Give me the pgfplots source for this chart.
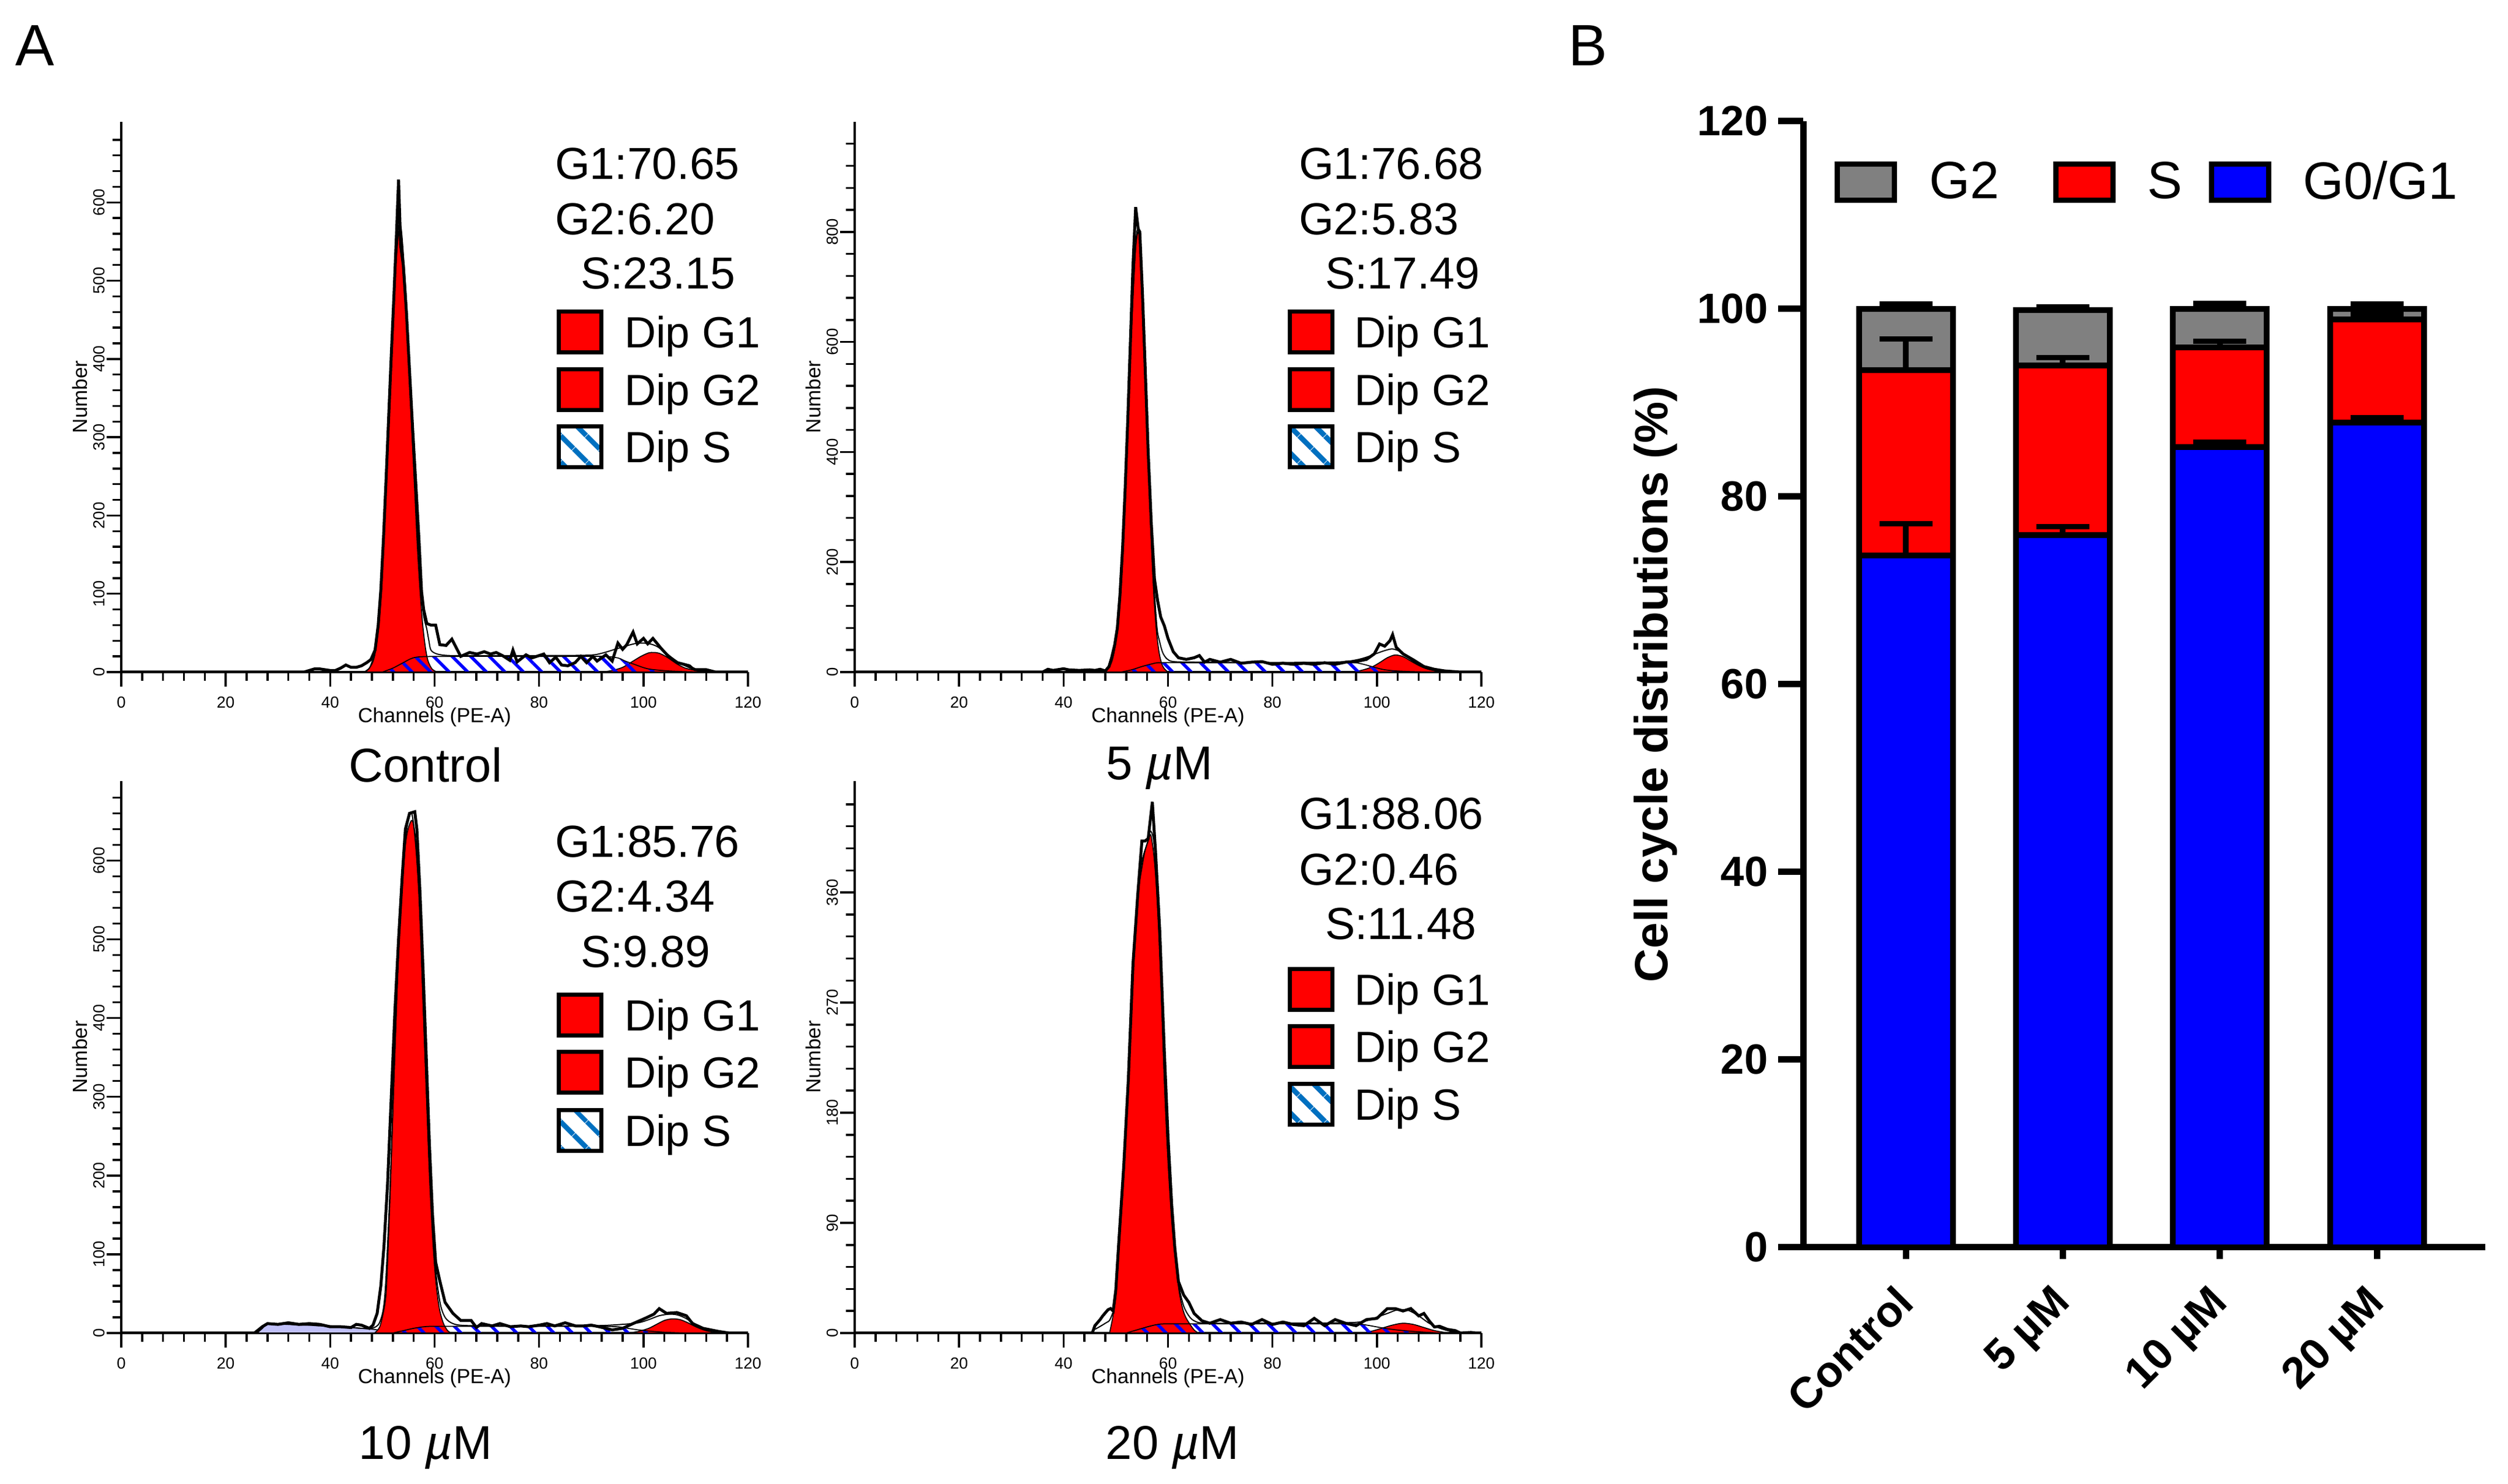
\documentclass[border=0pt]{standalone}
\usepackage{fontspec}
\setmainfont{Liberation Sans}
\usepackage{pgfplots}
\pgfplotsset{compat=1.18}
\usetikzlibrary{patterns.meta}
\definecolor{lav}{RGB}{192,192,248}
\definecolor{steel}{RGB}{0,112,192}
\definecolor{bargray}{RGB}{128,128,128}
\newcommand{\bigfont}{\fontsize{15.4}{18}\selectfont}
\newcommand{\legfont}{\fontsize{15}{18}\selectfont}
\newcommand{\legrow}[5]{%
  \path[#4] (#1pt,#3pt-7pt) rectangle ++(14.6pt,14pt);
  \draw[line width=1.4pt] (#1pt,#3pt-7pt) rectangle ++(14.6pt,14pt);
  \node[anchor=base west, inner sep=0pt, font=\legfont] at (#2pt,#3pt-5.4pt) {#5};}
\tikzset{
  g1/.style={fill=red, draw=black, line width=0.35pt},
  sh/.style={pattern={Lines[angle=-45,distance=4.5pt,line width=1.1pt]}, pattern color=blue, draw=black, line width=0.35pt},
  fitl/.style={draw=black, line width=0.4pt},
  raw/.style={draw=black, line width=1pt},
  deb/.style={fill=lav, draw=black, line width=0.35pt},
}
\pgfplotsset{
 histo/.style={
  anchor=south west, scale only axis, width=215pt,
  axis lines=left, axis line style={-, line width=0.9pt},
  xmin=0, xmax=120, ymin=0,
  xtick={0,20,...,120}, minor xtick={0,4,...,120},
  tick align=outside,
  major tick length=5pt, minor tick length=3pt,
  tick style={black, line width=0.7pt},
  ticklabel style={font=\fontsize{5.5}{6}\selectfont},
  /pgf/number format/assume math mode=true,
  yticklabel style={rotate=90, anchor=south},
  yticklabel shift=-2.8pt,
  xlabel={Channels (PE-A)}, ylabel={Number},
  label style={font=\fontsize{7}{8}\selectfont},
  xlabel style={at={(axis description cs:0.5,0)}, anchor=center, yshift=-15.4pt},
  ylabel style={at={(axis description cs:-0.066,0.5)}, anchor=center},
 },
 ebar/.style={error bars/.cd, y dir=plus, y explicit, error bar style={line width=2pt, black},
   error mark options={rotate=90, line width=1.8pt, mark size=9.1pt, black}},
}
\begin{document}
\begin{tikzpicture}
\path[use as bounding box] (0,0) rectangle (860.4pt,509.2pt);

% ---------------- Control ----------------
\begin{axis}[histo, at={(41.6pt,278.6pt)}, height=188.8pt, ymax=703,
  ytick={0,100,...,600}, minor ytick={0,20,...,680}]
\addplot[g1, smooth] coordinates {(46.5,0) (47.5,5) (48,13) (48.6,24) (49.2,55) (49.7,100) (50.2,165) (50.7,240) (51.2,320) (51.7,400) (52.2,475) (52.7,530) (53.2,565) (53.7,550) (54.2,510) (54.7,450) (55.2,380) (55.7,300) (56.2,230) (56.7,160) (57.2,105) (57.7,62) (58.2,33) (58.7,15) (59.5,4) (60.5,0)} \closedcycle;
\addplot[g1, smooth] coordinates {(92,0) (94,2) (96,6) (98,14) (99.5,20) (101,24.5) (102,25) (103,24) (104.5,19) (106.5,10) (108,5) (109.3,3) (111.6,0)} \closedcycle;
\addplot[sh, smooth] coordinates {(50,0) (52,5) (54,12) (55.3,16.6) (56.5,19) (58.7,19.8) (65,20) (75,20) (85,20) (92.3,20) (95.1,18) (96.5,14) (98,10.4) (100.8,4.2) (104.2,1.7) (108,0.5) (111.6,0)} \closedcycle;
\addplot[fitl, smooth] coordinates {(46.5,0) (47.5,5) (48.6,25) (49.7,102) (50.7,243) (51.7,403) (52.7,540) (53.2,572) (53.7,560) (54.7,462) (55.7,315) (56.7,178) (57.7,82) (58.5,55) (58.9,40) (59.3,28) (60.5,23) (63,21) (70,21) (80,21) (89.4,21.5) (92,24) (95,30) (98.5,36.5) (100.8,36.5) (102.5,33) (104.2,25) (106.5,13) (108.8,5.5) (110.5,1.7) (111.6,0)};
\addplot[raw] coordinates {(0,0) (35,0) (36,2) (37,4) (38,4) (39,3) (40,2) (41,2) (42,5) (43,9) (44,6) (45,6) (46,8) (47,12) (47.8,16) (48.6,28) (49.2,60) (49.7,105) (50.2,170) (50.7,245) (51.2,325) (51.7,405) (52.2,480) (52.7,560) (53.1,629) (53.5,545) (54,520) (54.6,460) (55.2,385) (55.8,310) (56.4,240) (57,170) (57.5,103) (57.9,80) (58.5,62) (59.3,60) (60.2,60) (61,35) (62.2,34) (63.3,42) (65,20) (66.7,25) (68.1,23) (69.5,26) (70.7,23) (71.8,25) (73,21) (74.4,15) (75,28) (75.8,13) (77.5,22) (78.6,18) (80.9,23) (82,12) (83.2,19) (84.3,9) (85.5,8) (86.9,12) (88,20) (89.1,12) (90.3,20) (91.1,14) (92.8,22) (94,14) (95.1,37) (96,29) (96.8,35) (98,51) (98.8,36) (100,43) (100.8,36) (101.8,43) (103.4,30) (104.8,20) (106.5,12) (108.8,8) (109.3,5) (109.9,3) (112,3) (113.8,0) (120,0)};
\end{axis}

% ---------------- 5 uM ----------------
\begin{axis}[histo, at={(293.2pt,278.6pt)}, height=188.8pt, ymax=1000,
  ytick={0,200,...,800}, minor ytick={0,40,...,960}]
\addplot[g1, smooth] coordinates {(47.5,0) (48.3,4) (48.8,10) (49.3,21) (49.8,42) (50.3,77) (50.8,134) (51.3,215) (51.8,321) (52.3,446) (52.8,576) (53.3,691) (53.8,771) (54.3,800) (54.8,762) (55.3,658) (55.8,516) (56.3,366) (56.8,236) (57.3,138) (57.8,73) (58.3,35) (58.8,15) (59.3,6) (60,0)} \closedcycle;
\addplot[g1, smooth] coordinates {(95,0) (97,3) (99,9) (100.5,17) (102,26) (103.5,31) (105,28) (106.5,20) (108,12) (109.5,6) (111,2.5) (113,0)} \closedcycle;
\addplot[sh, smooth] coordinates {(51,0) (53,4) (55,10) (57,15) (58.5,17) (65,17) (75,17) (85,17) (95,17) (97,15) (99,10) (101,5) (103,2.5) (106,1) (110,0)} \closedcycle;
\addplot[fitl, smooth] coordinates {(47.5,0) (48.8,12) (49.8,45) (50.8,137) (51.8,325) (52.8,580) (53.8,775) (54.3,805) (54.8,768) (55.8,525) (56.8,250) (57.8,90) (58.4,55) (59,35) (59.8,24) (61,19) (65,18) (75,17.5) (85,17.5) (93,18.5) (96,22) (98,27) (100,34) (101.5,39) (103,42) (104.5,37) (106,26) (107.5,16) (109,8) (111,3) (113,0)};
\addplot[raw] coordinates {(0,0) (36,0) (37,5) (38,3) (40,6) (41,4) (43,3) (45,4) (46,3) (47,5) (48,2) (48.7,10) (49.2,26) (49.8,50) (50.3,80) (50.8,140) (51.3,225) (51.8,335) (52.3,460) (52.8,600) (53.3,740) (53.8,845) (54.3,805) (54.6,800) (55.1,690) (55.6,560) (56.2,400) (56.8,270) (57.4,170) (58,130) (58.6,100) (59.3,84) (60,61) (61,37) (62,26) (63.5,23) (65,26) (66,30) (67,18) (68,23) (70,18) (72,23) (74,16) (76,18) (78,19) (80,14) (82,16) (84,14) (86,16) (88,14) (90,17) (92,14) (94,18) (96,19) (98,23) (99.5,33) (100.5,51) (101.5,47) (102.5,57) (103,68) (103.7,45) (105,33) (107,22) (109,10) (111,5) (113,2) (116,0) (120,0)};
\end{axis}

% ---------------- 10 uM ----------------
\begin{axis}[histo, at={(41.6pt,51.8pt)}, height=189.4pt, ymax=701,
  ytick={0,100,...,600}, minor ytick={0,20,...,680}]
\addplot[deb, smooth] coordinates {(26,0) (27,6) (28,11) (30,11) (32,11) (34,10) (36,10) (38,9) (40,9) (42,8) (44,7) (46,6) (48,5) (50,3) (52,1) (54,0)} \closedcycle;
\addplot[g1, smooth] coordinates {(48.5,0) (49.5,8) (50.3,30) (50.7,50) (51,90) (51.5,180) (52,280) (52.5,375) (53,465) (53.5,540) (54,590) (54.5,625) (55,642) (55.7,651) (56.3,630) (57,554) (57.5,470) (58,378) (58.5,290) (59,201) (59.5,135) (60,84) (60.5,50) (61,28) (61.7,12) (62.5,3) (63.2,0)} \closedcycle;
\addplot[g1, smooth] coordinates {(97,0) (99,2) (101,6) (102.5,11) (104,16) (105.5,18) (107,17) (108.5,13) (110,8) (111.5,4) (113,1.5) (115,0)} \closedcycle;
\addplot[sh, smooth] coordinates {(52,0) (54,3) (56,6) (58,8) (60,8.5) (70,8.5) (80,8.5) (90,8.5) (95,8) (97,6) (99,4) (101,2.5) (104,1) (108,0)} \closedcycle;
\addplot[fitl, smooth] coordinates {(26,0) (27,6) (28,11) (32,11) (40,9) (46,6) (48,6) (49.5,14) (50.5,50) (51.5,190) (52.5,385) (53.5,548) (54.5,632) (55.7,658) (57,562) (58,388) (59,212) (60,95) (61,40) (62,20) (63.5,12) (66,9.5) (75,9) (85,9) (92,9.5) (96,11) (99,13) (101,17) (103,22) (105,24) (106.5,23) (108,19) (110,11) (112,5) (114,1.5) (116,0)};
\addplot[raw] coordinates {(0,0) (25.5,0) (27,8) (28,12) (30,11) (32,13) (34,11) (36,12) (38,11) (40,8) (42,8) (44,7) (45,11) (46,10) (47.5,6) (48.2,10) (49,25) (49.7,60) (50.3,110) (51,190) (51.7,300) (52.4,410) (53.1,500) (53.8,580) (54.4,640) (55.2,660) (56.2,662) (56.6,640) (57.2,560) (57.8,460) (58.4,350) (59,240) (59.6,150) (60.2,90) (61,66) (62,39) (63.5,25) (65,16) (67,16) (68,7) (69,12) (71,9) (72.5,12) (74.5,8) (76.5,9) (78,8) (80,10) (81.5,12) (83,9) (85,13) (87,9) (88.5,9) (90,10) (91.5,8) (94,4) (96,6) (98,12) (100.4,19) (102,24) (103,31) (104.4,25) (106.4,26) (108.2,22) (109.4,12) (111.4,6) (114.4,2) (116.4,0) (120,0)};
\end{axis}

% ---------------- 20 uM ----------------
\begin{axis}[histo, at={(293.2pt,51.8pt)}, height=189.4pt, ymax=451,
  ytick={0,90,...,360}, minor ytick={0,18,...,432}]
\addplot[g1, smooth] coordinates {(48.8,0) (49.5,15) (50,35) (50.5,69) (51,100) (51.4,129) (52,170) (52.4,205) (53.3,300) (54.2,356) (55,380) (55.6,394) (56.2,402) (56.7,407) (57.3,390) (57.9,356) (58.6,290) (59.3,205) (60,140) (60.7,92) (61.4,60) (62.1,35) (62.8,20) (63.5,12) (64.9,3) (65.8,0)} \closedcycle;
\addplot[g1, smooth] coordinates {(97,0) (99,1.5) (101,4) (103,6.5) (105,8) (107,7) (109,4.5) (111,2) (113,0.5) (114,0)} \closedcycle;
\addplot[sh, smooth] coordinates {(52,0) (54,2.5) (56,5) (58,7) (60,7.5) (70,7.5) (80,7.5) (90,7.5) (96,7.5) (98,6.5) (100,5) (102,3.5) (105,2) (108,1) (112,0)} \closedcycle;
\addplot[fitl, smooth] coordinates {(46,3) (48,8) (49,12) (50,30) (51,100) (52.4,205) (53.3,300) (54.2,357) (55,385) (56,400) (56.7,410) (57.5,392) (58.6,300) (59.3,215) (60,150) (60.7,100) (61.4,62) (62.1,38) (63,22) (64,14) (65,10) (67,8) (75,8) (85,8) (95,8.5) (98,10) (100,13) (102,16) (104,19) (106,18.5) (108,14) (110,8) (112,4) (114,1.5) (116,0)};
\addplot[raw] coordinates {(0,0) (45.5,0) (46,6) (47,11) (47.5,14) (48.5,19) (49,20) (49.5,18) (50,35) (50.5,69) (51,102) (51.5,135) (52.4,207) (53.3,302) (54.2,358) (55,402) (55.6,402) (56.2,404) (57,434) (57.6,394) (58.4,330) (59.3,230) (60,160) (60.7,105) (61.3,70) (62,42) (63,31) (64,25) (65,16) (66.5,10) (68,8) (70,11) (72,8) (74,9) (76,7) (78,11) (80,7) (82,9) (84,7) (86,6) (88,12) (90,6) (92,11) (94,8) (96,6) (98,11) (100,12) (102,20) (103.5,20) (105,18) (106.5,20) (108,14) (109,16) (110,10) (111,5) (112,5.5) (113.5,3) (115,2) (116,0) (118,0.5) (119,0) (120,0)};
\end{axis}

% ---------------- Bar chart ----------------
\begin{axis}[at={(618.6pt,81.2pt)}, anchor=south west, scale only axis,
  width=234pt, height=386.4pt,
  axis lines=left, axis line style={-, line width=2.2pt},
  xmin=-0.654, xmax=3.69, ymin=0, ymax=120,
  xtick={0,1,2,3}, xticklabels={Control, 5 µM, 10 µM, 20 µM},
  ytick={0,20,...,120},
  tick align=outside, major tick length=8.6pt,
  xtick style={/pgfplots/major tick length=4pt},
  tick style={black, line width=2.2pt},
  /pgf/number format/assume math mode=true,
  yticklabel style={font=\bfseries\fontsize{14.5}{16}\selectfont},
  xticklabel style={font=\bfseries\fontsize{15}{16}\selectfont, rotate=45, anchor=north east, xshift=-2pt, yshift=4pt},
  ylabel={Cell cycle distributions (\%)},
  ylabel style={font=\bfseries\fontsize{16}{18}\selectfont, at={(axis description cs:-0.2162,0.5)}, anchor=center},
  legend style={at={(axis cs:-0.457,113.5)}, anchor=west, draw=none, fill=none, inner sep=0pt,
    font=\fontsize{18}{20}\selectfont, legend columns=3, nodes={inner sep=0pt},
    /tikz/column 1/.style={column sep=11pt}, /tikz/column 2/.style={column sep=18.5pt},
    /tikz/column 3/.style={column sep=11pt}, /tikz/column 4/.style={column sep=9pt},
    /tikz/column 5/.style={column sep=11pt}},
]
\addplot[ybar, bar width=32.2pt, bar shift=0pt, fill=bargray, draw=black, line width=2pt, forget plot, ebar]
  coordinates {(0,100) +- (0,0.55) (1,99.9) +- (0,0.3) (2,100) +- (0,0.6) (3,100) +- (0,0.5)};
\addplot[ybar, bar width=32.2pt, bar shift=0pt, fill=red, draw=black, line width=2pt, forget plot, ebar]
  coordinates {(0,93.5) +- (0,3.3) (1,94.0) +- (0,0.8) (2,95.9) +- (0,0.65) (3,98.9) +- (0,0.5)};
\addplot[ybar, bar width=32.2pt, bar shift=0pt, fill=blue, draw=black, line width=2pt, forget plot, ebar]
  coordinates {(0,73.7) +- (0,3.4) (1,75.9) +- (0,0.9) (2,85.3) +- (0,0.5) (3,87.9) +- (0,0.5)};
\addlegendimage{legend image code/.code={\draw[fill=bargray, draw=black, line width=1.8pt] (0pt,-6.2pt) rectangle (19.6pt,6.2pt);}}
\addlegendentry{G2}
\addlegendimage{legend image code/.code={\draw[fill=red, draw=black, line width=1.8pt] (0pt,-6.2pt) rectangle (19.6pt,6.2pt);}}
\addlegendentry{S}
\addlegendimage{legend image code/.code={\draw[fill=blue, draw=black, line width=1.8pt] (0pt,-6.2pt) rectangle (19.6pt,6.2pt);}}
\addlegendentry{G0/G1}
\end{axis}

% ---------------- Texts ----------------
\node[font=\fontsize{20}{22}\selectfont] at (12pt,493.6pt) {A};
\node[font=\fontsize{20}{22}\selectfont] at (544.8pt,493.6pt) {B};
\node[font=\fontsize{16.3}{18}\selectfont] at (146pt,246.8pt) {Control};
\node[font=\fontsize{16.3}{18}\selectfont] at (397.8pt,245.6pt) {5 {\itshape µ}M};
\node[font=\fontsize{16.3}{18}\selectfont] at (146pt,12.4pt) {10 {\itshape µ}M};
\node[font=\fontsize{16.3}{18}\selectfont] at (402.2pt,12.4pt) {20 {\itshape µ}M};

% Control stats
\node[anchor=base west, inner sep=0pt, font=\bigfont] at (190.2pt,447.6pt) {G1:70.65};
\node[anchor=base west, inner sep=0pt, font=\bigfont] at (190.2pt,428.6pt) {G2:6.20};
\node[anchor=base west, inner sep=0pt, font=\bigfont] at (199pt,410pt) {S:23.15};
\legrow{191.6}{214}{395.2}{fill=red}{Dip G1}
\legrow{191.6}{214}{375.4}{fill=red}{Dip G2}
\legrow{191.6}{214}{355.8}{pattern={Lines[angle=-45,distance=6.4pt,line width=1.8pt]}, pattern color=steel}{Dip S}
% 5 uM stats
\node[anchor=base west, inner sep=0pt, font=\bigfont] at (445.4pt,447.6pt) {G1:76.68};
\node[anchor=base west, inner sep=0pt, font=\bigfont] at (445.4pt,428.6pt) {G2:5.83};
\node[anchor=base west, inner sep=0pt, font=\bigfont] at (454.4pt,410pt) {S:17.49};
\legrow{442.4}{464.4}{395.2}{fill=red}{Dip G1}
\legrow{442.4}{464.4}{375.4}{fill=red}{Dip G2}
\legrow{442.4}{464.4}{355.8}{pattern={Lines[angle=-45,distance=6.4pt,line width=1.8pt]}, pattern color=steel}{Dip S}
% 10 uM stats
\node[anchor=base west, inner sep=0pt, font=\bigfont] at (190.2pt,215pt) {G1:85.76};
\node[anchor=base west, inner sep=0pt, font=\bigfont] at (190.2pt,196.2pt) {G2:4.34};
\node[anchor=base west, inner sep=0pt, font=\bigfont] at (199pt,177.2pt) {S:9.89};
\legrow{191.6}{214}{160.8}{fill=red}{Dip G1}
\legrow{191.6}{214}{141.2}{fill=red}{Dip G2}
\legrow{191.6}{214}{121.2}{pattern={Lines[angle=-45,distance=6.4pt,line width=1.8pt]}, pattern color=steel}{Dip S}
% 20 uM stats
\node[anchor=base west, inner sep=0pt, font=\bigfont] at (445.4pt,224.6pt) {G1:88.06};
\node[anchor=base west, inner sep=0pt, font=\bigfont] at (445.4pt,205.4pt) {G2:0.46};
\node[anchor=base west, inner sep=0pt, font=\bigfont] at (454.4pt,186.8pt) {S:11.48};
\legrow{442.4}{464.4}{169.6}{fill=red}{Dip G1}
\legrow{442.4}{464.4}{150}{fill=red}{Dip G2}
\legrow{442.4}{464.4}{130.2}{pattern={Lines[angle=-45,distance=6.4pt,line width=1.8pt]}, pattern color=steel}{Dip S}
\end{tikzpicture}
\end{document}
